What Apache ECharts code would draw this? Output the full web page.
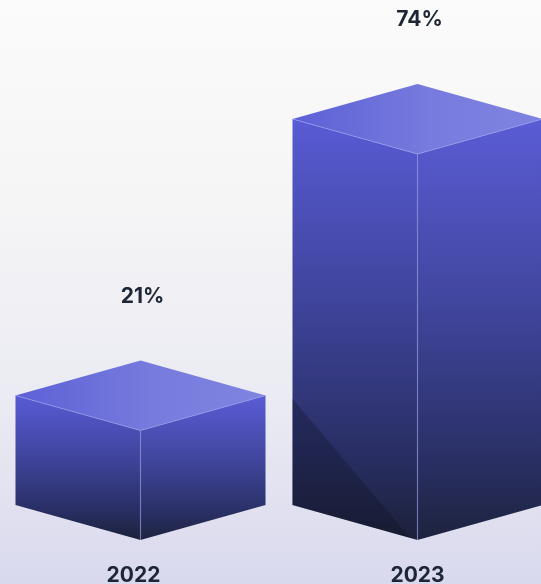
<!DOCTYPE html>
<html><head><meta charset="utf-8">
<script src="https://cdn.jsdelivr.net/npm/echarts@6/dist/echarts.min.js"></script>
<style>
html,body{margin:0;padding:0;}
#c{width:541px;height:584px;background:linear-gradient(to bottom,#fbfbfb 0%,#f5f5f6 35%,#eaeaf3 70%,#d9d9ee 100%);}
</style>
</head><body><div id="c"></div>
<script>
const categories = ['2022', '2023'];
const values = [21, 74];

const chart = echarts.init(document.getElementById('c'), null, {renderer: 'canvas'});

function renderItem(params, api) {
  const idx = api.value(0), v = api.value(1);
  const top = api.coord([idx, v]);
  const bot = api.coord([idx, 0]);
  const band = api.size([1, 0])[0];
  const w = band * 0.4513;
  const dy = w * 0.28;
  const x = top[0], yT = top[1], yB = bot[1];
  const G = echarts.graphic.LinearGradient;
  const children = [
    { type: 'polygon', shape: { points: [[x - w, yT - dy], [x, yT], [x, yB], [x - w, yB - dy]] },
      style: { fill: new G(0, 0, 0, 1, [
        {offset: 0, color: '#585bd4'}, {offset: 0.45, color: '#3e4399'},
        {offset: 0.8, color: '#282e62'}, {offset: 1, color: '#1c2139'}]) } },
    { type: 'polygon', shape: { points: [[x, yT], [x + w, yT - dy], [x + w, yB - dy], [x, yB]] },
      style: { fill: new G(0, 0, 0, 1, [
        {offset: 0, color: '#5a5cd5'}, {offset: 0.45, color: '#40459c'},
        {offset: 0.8, color: '#2a3066'}, {offset: 1, color: '#1d233d'}]) } },
    { type: 'polygon', shape: { points: [[x, yT - 2 * dy], [x + w, yT - dy], [x, yT], [x - w, yT - dy]] },
      style: { fill: new G(0, 0.5, 1, 0.5, [
        {offset: 0, color: '#5c60d6'}, {offset: 0.55, color: '#777bdd'}, {offset: 1, color: '#7f83e0'}]) } },
    { type: 'polyline', shape: { points: [[x - w, yT - dy], [x, yT], [x + w, yT - dy]] },
      style: { stroke: 'rgba(150,155,235,0.7)', lineWidth: 1, fill: null } },
    { type: 'line', shape: { x1: x, y1: yT, x2: x, y2: yB },
      style: { stroke: 'rgba(140,145,220,0.6)', lineWidth: 1.2 } },
    { type: 'text', x: x + 2, y: yT - 2 * dy - 64,
      style: { text: v + '%', align: 'center', verticalAlign: 'middle', fontSize: 21,
        fontWeight: 'bold', fontFamily: 'Inter', fill: '#1c2636' } }
  ];
  if (v > 50) {
    children.splice(1, 0, { type: 'polygon', shape: { points: [
      [x - w, yB - dy - 0.85 * w], [x - 0.06 * w, yB - 0.017 * w], [x - w, yB - dy]] },
      style: { fill: 'rgba(14,17,34,0.3)' } });
  }
  return { type: 'group', children };
}

chart.setOption({
  backgroundColor: 'transparent',
  animation: false,
  grid: { left: 2, top: 18.4, width: 554, height: 521.6, containLabel: false, outerBoundsMode: 'none' },
  xAxis: {
    type: 'category',
    data: [{ value: categories[0], textStyle: { padding: [0, 14, 0, 0] } }, categories[1]],
    axisLine: { show: false }, axisTick: { show: false },
    axisLabel: { margin: 25, fontSize: 21, fontWeight: 'bold', fontFamily: 'Inter', color: '#1c2636', verticalAlign: 'top' }
  },
  yAxis: { type: 'value', min: 0, max: 100, show: false, splitLine: { show: false } },
  series: [{
    type: 'custom',
    renderItem: renderItem,
    data: values.map((v, i) => [i, v]),
    encode: { x: 0, y: 1 },
    clip: false
  }]
});
</script>
</body></html>
